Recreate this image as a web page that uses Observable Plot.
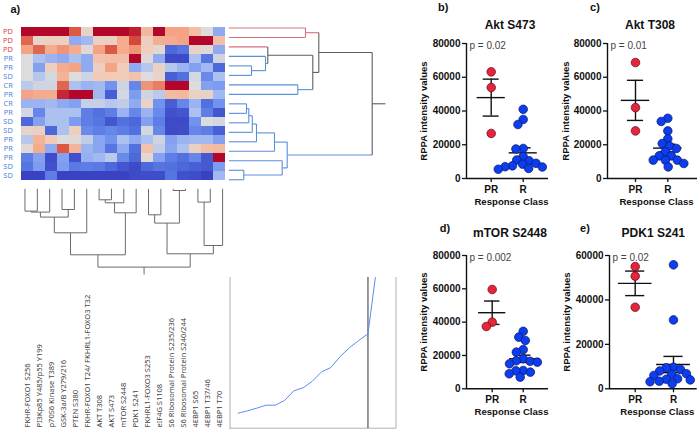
<!DOCTYPE html>
<html><head><meta charset="utf-8">
<script src="https://cdn.jsdelivr.net/npm/d3@7"></script>
<script src="https://cdn.jsdelivr.net/npm/@observablehq/plot@0.6"></script>
<style>
body{margin:0;background:#fff;}
#root{position:relative;width:699px;height:429px;overflow:hidden;font-family:"Liberation Sans",Arial,sans-serif;}
#root > svg, #root > div{position:absolute;}
.t{position:absolute;transform:translate(-50%,-50%);white-space:nowrap;font-weight:bold;color:#111;}
.yl{position:absolute;transform:translate(-50%,-50%) rotate(-90deg);white-space:nowrap;font-weight:bold;color:#111;font-size:9.5px;}
</style></head><body><div id="root"></div>
<script>
// ---------- DATA ----------
const rowLabels = ["PD","PD","PD","PR","PR","SD","CR","PR","CR","PR","SD","SD","PR","PR","PR","SD","SD"];
const colLabels = ["FKHR-FOXO1 S256","PI3Kp85 Y485/p55 Y199","p70S6 Kinase T389","GSK-3a/B Y279/216","PTEN S380","FKHR-FOXO1 T24/ FKHRL1-FOXO3 T32","AKT T308","AKT S473","mTOR S2448","PDK1 S241","FKHRL1-FOXO3 S253","eIF4G S1108","S6 Ribosomal Protein S235/236","S6 Ribosomal Protein S240/244","4EBP1 S65","4EBP1 T37/46","4EBP1 T70"];
const heatValues = [
 [4,4,4,4,3,0.5,4,4,4,3.7,1.5,4,2,2,1.3,0,-1.5],
 [2.8,0.5,0.8,0.8,-1.5,-1.2,0.7,0.7,1.8,3.2,0.8,1.7,1.8,2,4,4,1.3],
 [2,2.8,1.8,2.2,1.8,0.2,2,3,1.8,2.2,0.8,0.3,-3,-2.7,0.6,0.2,-1.5],
 [0,-1,-1.3,-1.5,-1,-1.5,1.2,1.3,1.3,4,0.2,-1.5,-3.8,-3.8,-1,-2.7,-0.3],
 [0,-1.7,0.8,1.8,2,-1.5,0.7,2,0.9,-1.5,-0.8,0.6,-0.8,-1.3,-1.7,-1.2,-3],
 [0,-0.8,-0.2,1.6,0,-0.3,1,1,0.9,1.2,0,0.5,-3.2,-2.8,-0.2,-2.2,-1],
 [-0.7,-0.3,-0.3,2.8,-1,-1.3,-1.2,-2,-0.3,-2.3,2.2,2.5,4,4,0,-1.7,-1.8],
 [2,1.8,1.8,3.6,4,4,-1.2,-3.3,-0.2,-1.8,-0.3,-0.7,1.4,1.5,0.6,0.6,-1.2],
 [-1.3,-1.3,-1.2,-1.5,-1.7,-0.5,-0.5,-0.8,-0.6,-1.5,0.5,-2,-3.3,-2.3,-1.3,-2.8,-2],
 [-0.2,-2.3,-1,-1,-1,-2.5,-2.8,-2.5,-1.3,-2.3,-1.3,-2.2,-3.6,-3.5,-1,-2.5,-3.5],
 [-3,-1.7,-1,-1,-1.8,-2.5,-2.7,-3.5,-2.8,-3,-1.7,-2.5,-3.8,-3.8,-2,0,-0.2],
 [0.5,0.7,-3,-1,0.8,-2.2,-2.5,-2.3,-2.5,-2.8,-0.2,-2.3,-3.8,-3.7,-2.3,-2.5,-3.2],
 [-0.8,1.6,1,0,0.2,-0.6,-1.6,-2,-1,-1.5,-1,-0.3,-1.7,-1.3,-1.2,-1.2,-1.7],
 [0.2,1.8,-1.5,3,1.6,-1.3,-1.6,-2.7,-1.5,-2.8,1.2,-0.6,-1.6,-1,0.7,1.3,1.4],
 [-2.5,-1.7,-3.7,-1.7,-3.6,-1.4,-1.2,-0.7,-2.2,-3,0.3,-1.7,-2.5,-2.8,-2.3,-3.4,4],
 [-2.7,-1.8,-3.6,-1.8,-2.6,-2.5,-2.6,-3,-3.5,-3.8,-3,-2.7,-2.8,-3,-3.2,-3.4,-1.8],
 [-4,-4,-2.5,-4,-4,-4,-4,-4,-4,-3.8,-3.7,-3.7,-2.7,-3.6,-3.7,-4,-1.2]
];
const heatStops = [-4,-3,-2,-1,0,1,2,3,4];
const heatColors = ["#3a42c4","#4c68da","#7193ef","#adc1f0","#dcdcdc","#f2cab7","#f4a384","#db5842","#b4052a"];
// linkage: [childA, childB, height]; ids >= n refer to earlier merges
const rowLinkage = [[4,5,22.7],[3,17,36.7],[2,18,39],[6,7,69],[19,20,84],[0,1,76.7],[22,21,90],
  [8,9,17.7],[24,10,20],[25,11,23.5],[26,12,27.7],[27,13,45.7],[15,16,15],[14,29,53.4],[28,30,58.4],[23,31,143.4]];
const rowStub = 156.7;
const colLinkage = [[0,1,22.3],[17,2,23.3],[3,4,20.7],[18,19,28.3],[20,5,44],[6,7,11],[22,8,14],[23,9,24],[21,24,66],
  [10,11,26],[12,13,1.7],[26,27,34.3],[14,15,13.3],[29,16,56.7],[28,30,65],[25,31,78.3]];
const colStub = 85.7;
const insetIndex = [1,2,3,4,5,6,7,8,9,10,11,12,13,14,15,16];
const insetValues = [15,17.4,20,23,23,27.7,37.4,40.4,47,56.4,60.7,71.7,80.4,87.7,94.4,165];
const insetCut = 15;

const categories = ["PR","R"];
const aktS473_PR = [63200,53900,26700];
const aktS473_R = [41000,35000,32000,17800,17500,13000,11000,10500,9000,8500,7500,7000,6800,6000,5500];
const aktT308_PR = [68700,42000,28200];
const aktT308_R = [35700,33800,28200,23500,20700,19300,17800,15800,13400,13400,10900,10900,10900,8900,6900];
const mtor_PR = [59600,40000,37400];
const mtor_R = [34500,31000,29000,23500,22000,18000,16800,16500,16000,15000,11000,10800,10000,9000,7000];
const pdk1_PR = [55000,50700,36700];
const pdk1_R = [55800,31000,9700,9500,8700,8000,6800,6500,6000,4500,4300,4000,3400,3200,2300];

// ---------- DRAW ----------
const root = document.getElementById("root");
const RED = "#d8404c", BLUE = "#4a86d8";
const TR = {background:"transparent", overflow:"visible"};
function place(el, left, top){ el.style.position="absolute"; el.style.left=left+"px"; el.style.top=top+"px"; root.appendChild(el); }
function label(cls, text, size, x, y){ const d=document.createElement("div"); d.className=cls; d.textContent=text; if(size) d.style.fontSize=size+"px"; place(d,x,y); }

// heatmap
const cellData = heatValues.flatMap((row,r)=>row.map((v,c)=>({r,c,v})));
place(Plot.plot({
  width:699, height:429, marginLeft:18.3, marginRight:470.7, marginTop:22.7, marginBottom:245,
  x:{type:"band", domain:d3.range(17), padding:0, axis:null},
  y:{type:"band", domain:d3.range(17), padding:0, axis:null},
  color:{type:"linear", domain:heatStops, range:heatColors},
  style:{...TR, fontFamily:"'Noto Sans', sans-serif"},
  marks:[
    Plot.cell(cellData,{x:"c",y:"r",fill:"v"}),
    Plot.text(rowLabels,{y:(d,i)=>i, filter:d=>d==="PD", frameAnchor:"left", dx:-6, textAnchor:"end", fill:RED, fontSize:7.4}),
    Plot.text(rowLabels,{y:(d,i)=>i, filter:d=>d!=="PD", frameAnchor:"left", dx:-6, textAnchor:"end", fill:BLUE, fontSize:7.4}),
    Plot.text(colLabels,{x:(d,i)=>i, frameAnchor:"bottom", dy:243, rotate:-90, textAnchor:"start", lineAnchor:"middle", fill:"#444", fontSize:7.5})
  ]
}),0,0);

function dendro(n, links, stub, leafColor, gray){
  const P=[],H=[],C=[],segs=[];
  for(let i=0;i<n;i++){P[i]=i;H[i]=0;C[i]=leafColor(i);}
  links.forEach(([a,b,h],k)=>{
    const id=n+k;
    P[id]=(P[a]+P[b])/2; H[id]=h; C[id]=C[a]===C[b]?C[a]:gray;
    segs.push({a0:P[a],a1:P[a],h0:H[a],h1:h,color:C[a]});
    segs.push({a0:P[b],a1:P[b],h0:H[b],h1:h,color:C[b]});
    segs.push({a0:P[a],a1:P[b],h0:h,h1:h,color:C[id]});
  });
  const r=n+links.length-1;
  segs.push({a0:P[r],a1:P[r],h0:H[r],h1:stub,color:gray});
  return segs;
}
const rowSegs = dendro(17,rowLinkage,rowStub,i=>rowLabels[i]==="PD"?"#d9707c":"#5b8edb","#5e5e5e");
place(Plot.plot({
  width:699,height:429,margin:0,
  x:{domain:[0,rowStub],range:[228.3,385],axis:null},
  y:{domain:[-0.5,16.5],range:[22.7,184],axis:null},
  color:{type:"identity"}, style:TR,
  marks:[Plot.link(rowSegs,{x1:"h0",x2:"h1",y1:"a0",y2:"a1",stroke:"color",strokeWidth:1.1})]
}),0,0);
const colSegs = dendro(17,colLinkage,colStub,()=>"#6a6a6a","#6a6a6a");
place(Plot.plot({
  width:699,height:429,margin:0,
  x:{domain:[-0.5,16.5],range:[18.3,228.3],axis:null},
  y:{domain:[0,colStub],range:[188.3,274],axis:null},
  color:{type:"identity"}, style:TR,
  marks:[Plot.link(colSegs,{x1:"a0",x2:"a1",y1:"h0",y2:"h1",stroke:"color",strokeWidth:1})]
}),0,0);

// inset elbow line
const insetPts = insetIndex.map((x,i)=>({x, y:insetValues[i]}));
place(Plot.plot({
  width:167,height:151,margin:0,
  x:{domain:[0.0615,18.08],axis:null},
  y:{domain:[0,150.7],range:[150.7,0],axis:null},
  style:TR,
  marks:[
    Plot.ruleX([0.0615],{stroke:"#b0b0b0",dx:0.5}),
    Plot.ruleX([18.08],{stroke:"#b0b0b0",dx:-0.5}),
    Plot.ruleY([0],{stroke:"#b0b0b0"}),
    Plot.ruleX([insetCut],{stroke:"#555",strokeWidth:1.2}),
    Plot.line(insetPts,{x:"x",y:"y",stroke:"#5b8def",strokeWidth:1,clip:"frame"})
  ]
}),229,277);

// scatter panels
function swarm(vals, yPix, D){
  const placed=[], out=new Array(vals.length);
  const order=d3.range(vals.length).sort((a,b)=>vals[b]-vals[a]);
  for(const i of order){
    const y=yPix(vals[i]); const blocks=[];
    for(const p of placed){const dy=Math.abs(p.y-y); if(dy<D){const w=Math.sqrt(D*D-dy*dy); blocks.push([p.x-w,p.x+w]);}}
    const cands=[0]; for(const [a,b] of blocks) cands.push(a,b);
    cands.sort((a,b)=>Math.abs(a)-Math.abs(b));
    let x=0;
    for(const c of cands){ if(blocks.every(([a,b])=>c<=a+1e-6||c>=b-1e-6)){x=c;break;} }
    placed.push({x,y}); out[i]=x;
  }
  return out;
}
const panels = [
 {letter:"b)", lx:443.3, ly:6.7, title:"Akt S473", tx:510, ty:25, ylx:423, p:"p = 0.02", pr:aktS473_PR, r:aktS473_R, yMax:80000, axisX:466, prX:490.7, rX:522.7, xEnd:548, y0:178.3, yTop:43.3},
 {letter:"c)", lx:595, ly:6.7, title:"Akt T308", tx:650, ty:25, ylx:565, p:"p = 0.01", pr:aktT308_PR, r:aktT308_R, yMax:80000, axisX:607, prX:635, rX:667.3, xEnd:697, y0:178.3, yTop:43.3},
 {letter:"d)", lx:445, ly:228.3, title:"mTOR S2448", tx:510, ty:233.3, ylx:423.3, p:"p = 0.002", pr:mtor_PR, r:mtor_R, yMax:80000, axisX:466, prX:491.7, rX:522.7, xEnd:548, y0:388.3, yTop:255},
 {letter:"e)", lx:585, ly:228.3, title:"PDK1 S241", tx:653.3, ty:233.3, ylx:566, p:"p = 0.02", pr:pdk1_PR, r:pdk1_R, yMax:60000, axisX:609.3, prX:635, rX:673.3, xEnd:697, y0:388.3, yTop:255}
];
const ML=72, MT=18, MB=36, MR=2, DOT=4.3;
for(const P of panels){
  const left=P.axisX-ML, top=P.yTop-MT, width=P.xEnd+MR-left, height=P.y0+MB-top;
  const k=P.rX-P.prX, lo=1-(P.prX-P.axisX)/k, hi=2+(P.xEnd-P.rX)/k;
  const yPix=v=>P.y0-v/P.yMax*(P.y0-P.yTop);
  const oPR=swarm(P.pr,yPix,DOT*1.7), oR=swarm(P.r,yPix,DOT*1.7);
  const dPR=P.pr.map((v,i)=>({x:1+oPR[i]/k,y:v}));
  const dR=P.r.map((v,i)=>({x:2+oR[i]/k,y:v}));
  const stats=[P.pr,P.r].map((vals,i)=>{const m=d3.mean(vals), s=d3.deviation(vals)/Math.sqrt(vals.length); return {c:i+1,m,lo:m-s,hi:m+s};});
  const font={fontWeight:"bold",fontSize:10,fill:"#111"};
  place(Plot.plot({
    width,height,marginLeft:ML,marginTop:MT,marginRight:MR,marginBottom:MB,
    x:{domain:[lo,hi],axis:null}, y:{domain:[0,P.yMax],axis:null},
    style:{...TR,fontFamily:"'Liberation Sans', Arial, sans-serif"},
    marks:[
      Plot.ruleY([0],{stroke:"#111",strokeWidth:1.4}),
      Plot.ruleX([lo],{stroke:"#111",strokeWidth:1.4}),
      Plot.axisY({ticks:d3.range(0,P.yMax+1,20000),tickFormat:d=>String(d),tickSize:4,tickPadding:2,label:null,strokeWidth:1.3,stroke:"#111",...font}),
      Plot.axisX({ticks:[1,2],tickFormat:d=>categories[d-1],tickSize:4,tickPadding:3,label:null,strokeWidth:1.3,stroke:"#111",...font}),
      Plot.text(["Response Class"],{frameAnchor:"bottom",dy:26,dx:4,fontWeight:"bold",fontSize:9.6,fill:"#111"}),
      Plot.text([P.p],{frameAnchor:"top-left",textAnchor:"start",dx:3,dy:-2,fontSize:10,fill:"#444"}),
      Plot.ruleX(stats,{x:"c",y1:"lo",y2:"hi",stroke:"#111",strokeWidth:1.4}),
      Plot.ruleY(stats,{y:"m",x1:d=>d.c-0.44,x2:d=>d.c+0.44,stroke:"#111",strokeWidth:1.4}),
      Plot.ruleY(stats,{y:"lo",x1:d=>d.c-0.25,x2:d=>d.c+0.25,stroke:"#111",strokeWidth:1.4}),
      Plot.ruleY(stats,{y:"hi",x1:d=>d.c-0.25,x2:d=>d.c+0.25,stroke:"#111",strokeWidth:1.4}),
      Plot.dot(dPR,{x:"x",y:"y",r:DOT,fill:"#e8243c",stroke:"#5a0a14",strokeWidth:0.7}),
      Plot.dot(dR,{x:"x",y:"y",r:DOT,fill:"#0d3df0",stroke:"#0a1560",strokeWidth:0.7})
    ]
  }),left,top);
  label("t", P.letter, 11, P.lx, P.ly);
  label("t", P.title, 12, P.tx, P.ty);
  label("yl", "RPPA intensity values", 9.5, P.ylx, (P.yTop+P.y0)/2);
}
label("t", "a)", 11, 15.3, 8.5);
</script></body></html>
